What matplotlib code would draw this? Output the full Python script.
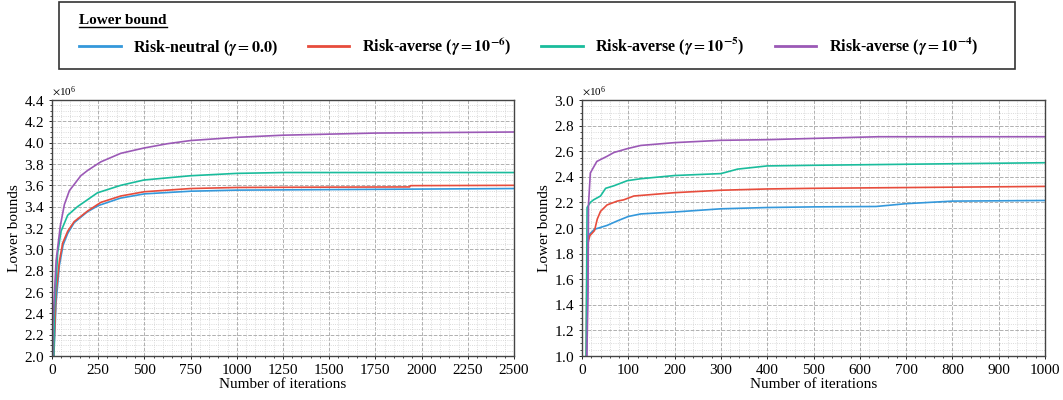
import numpy as np
import matplotlib
matplotlib.use("Agg")
import matplotlib.pyplot as plt
from matplotlib.lines import Line2D
from matplotlib.patches import Rectangle

plt.rcParams['font.family'] = ['Liberation Serif', 'DejaVu Serif']
plt.rcParams['mathtext.fontset'] = 'stix'

colors = ['#3498db', '#e74c3c', '#1abc9c', '#9b59b6']
labels = [r'Risk-neutral ($\boldsymbol{\gamma} = \mathbf{0.0}$)',
          r'Risk-averse ($\boldsymbol{\gamma} = \mathbf{10^{-6}}$)',
          r'Risk-averse ($\boldsymbol{\gamma} = \mathbf{10^{-5}}$)',
          r'Risk-averse ($\boldsymbol{\gamma} = \mathbf{10^{-4}}$)']

# left panel (values in millions)
left_neutral_x = [1, 10, 22, 40, 60, 85, 120, 190, 250, 370, 500, 750, 1000, 1500, 2000, 2500]
left_neutral_y = [1.0, 2.0, 2.5, 2.85, 3.04, 3.15, 3.25, 3.35, 3.41, 3.48, 3.52, 3.545, 3.555, 3.56, 3.565, 3.57]
left_r6_x = [1, 10, 22, 40, 58, 85, 120, 193, 264, 372, 500, 750, 1000, 1500, 1935, 1940, 2500]
left_r6_y = [1.0, 2.05, 2.59, 2.89, 3.06, 3.17, 3.26, 3.36, 3.44, 3.50, 3.54, 3.57, 3.58, 3.583, 3.585, 3.597, 3.60]
left_r5_x = [1, 13, 31, 49, 85, 138, 246, 372, 498, 750, 1000, 1250, 2500]
left_r5_y = [1.0, 2.41, 2.97, 3.17, 3.32, 3.40, 3.53, 3.60, 3.65, 3.69, 3.712, 3.72, 3.72]
left_r4_x = [1, 5, 22, 45, 67, 94, 156, 193, 264, 372, 498, 624, 750, 1000, 1250, 1750, 2500]
left_r4_y = [1.0, 2.3, 2.89, 3.22, 3.42, 3.55, 3.69, 3.74, 3.82, 3.90, 3.95, 3.99, 4.02, 4.05, 4.07, 4.09, 4.10]

# right panel (values in millions)
right_neutral_x = [8, 12, 13, 27, 54, 76, 100, 127, 200, 300, 400, 500, 635, 700, 800, 1000]
right_neutral_y = [0.5, 1.5, 1.94, 1.99, 2.02, 2.055, 2.09, 2.11, 2.125, 2.15, 2.16, 2.165, 2.168, 2.19, 2.21, 2.215]
right_r6_x = [8, 11, 17, 27, 33, 40, 54, 76, 90, 112, 200, 300, 400, 500, 1000]
right_r6_y = [0.5, 1.86, 1.94, 1.98, 2.07, 2.13, 2.18, 2.21, 2.22, 2.25, 2.276, 2.295, 2.305, 2.31, 2.325]
right_r5_x = [8, 11, 18, 25, 40, 51, 69, 98, 127, 200, 300, 336, 400, 500, 1000]
right_r5_y = [0.5, 2.16, 2.20, 2.22, 2.25, 2.31, 2.33, 2.37, 2.385, 2.41, 2.425, 2.46, 2.485, 2.49, 2.51]
right_r4_x = [8, 13, 14, 18, 32, 43, 54, 69, 98, 127, 200, 300, 400, 500, 640, 1000]
right_r4_y = [0.5, 1.5, 2.18, 2.43, 2.52, 2.54, 2.56, 2.59, 2.62, 2.645, 2.667, 2.685, 2.69, 2.70, 2.713, 2.713]

fig = plt.figure(figsize=(10.63, 4.0), dpi=100)
ax1 = fig.add_axes([52/1063, 44/400, 462/1063, 256/400])
ax2 = fig.add_axes([582/1063, 44/400, 463/1063, 256/400])

left = [(left_neutral_x, left_neutral_y), (left_r6_x, left_r6_y),
        (left_r5_x, left_r5_y), (left_r4_x, left_r4_y)]
right = [(right_neutral_x, right_neutral_y), (right_r6_x, right_r6_y),
         (right_r5_x, right_r5_y), (right_r4_x, right_r4_y)]

for ax, series in [(ax1, left), (ax2, right)]:
    for (xs, ys), c in zip(series, colors):
        ax.plot(xs, np.array(ys) * 1e6, color=c, lw=1.2)

ax1.set_xlim(0, 2500)
ax1.set_ylim(2.0e6, 4.4e6)
ax1.set_xticks(np.arange(0, 2501, 250))
ax1.set_yticks(np.arange(2.0e6, 4.41e6, 0.2e6))
ax2.set_xlim(0, 1000)
ax2.set_ylim(1.0e6, 3.0e6)
ax2.set_xticks(np.arange(0, 1001, 100))
ax2.set_yticks(np.arange(1.0e6, 3.01e6, 0.2e6))

for ax in (ax1, ax2):
    ax.ticklabel_format(axis='y', style='sci', scilimits=(6, 6), useMathText=True)
    ax.yaxis.get_offset_text().set_fontsize(8)
    ax.minorticks_on()
    ax.grid(which='major', ls='--', color='#b0b0b0', lw=0.7)
    ax.grid(which='minor', ls=':', color='#cfcfcf', lw=0.6)
    ax.tick_params(labelsize=11, length=2, width=0.6)
    ax.tick_params(which='minor', length=1.5, width=0.5)
    ax.set_xlabel('Number of iterations', fontsize=11, labelpad=1)
    ax.set_ylabel('Lower bounds', fontsize=11, labelpad=2)
    for s in ax.spines.values():
        s.set_color('#444444')
        s.set_linewidth(1.0)

# legend box
fig.add_artist(Rectangle((59/1063, 1 - 69/400), 956/1063, 67/400, transform=fig.transFigure,
                         fill=False, edgecolor='#333333', lw=1.2))

handles = [Line2D([], [], color=c, lw=2) for c in colors]
leg = fig.legend(handles, labels, loc='upper left',
                 bbox_to_anchor=(79/1063, 1 - 14/400), frameon=False,
                 borderpad=0, borderaxespad=0, ncol=4, title='Lower bound',
                 alignment='left', handlelength=2.6, handletextpad=0.8,
                 columnspacing=1.85,
                 prop={'weight': 'bold', 'size': 11.5},
                 title_fontproperties={'weight': 'bold', 'size': 11},
                 labelspacing=0.5)

fig.canvas.draw()
bb = leg.get_title().get_window_extent().transformed(fig.transFigure.inverted())
fig.add_artist(Line2D([bb.x0, bb.x1], [bb.y0 + 0.001, bb.y0 + 0.001],
                      transform=fig.transFigure, color='black', lw=1.0, zorder=20))

fig.savefig('out.png', dpi=100)
